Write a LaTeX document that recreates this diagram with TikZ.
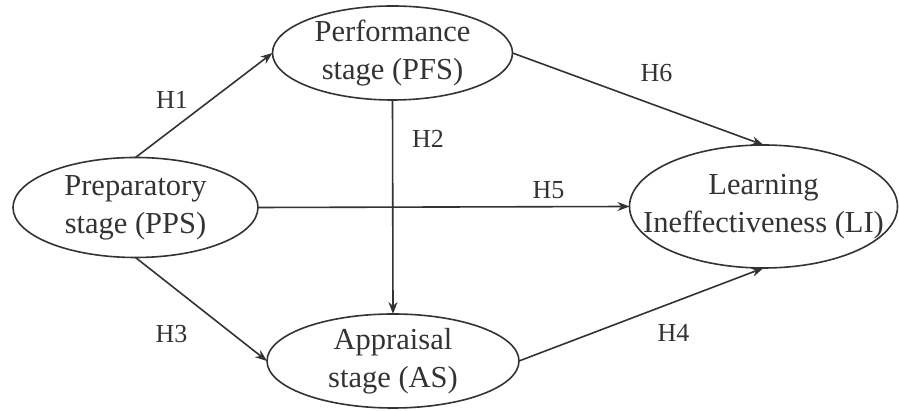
\documentclass[tikz,border=0pt]{standalone}
\usepackage{fontspec}
\setmainfont{Liberation Serif}
\usetikzlibrary{shapes.geometric,arrows.meta}
\definecolor{ink}{HTML}{333333}
\tikzset{
  construct/.style={ellipse, draw=ink, line width=1.6pt, inner sep=0pt, outer sep=0pt},
  ctext/.style={align=center, inner sep=0pt, text=ink, font=\fontsize{30.5}{38}\selectfont},
  link/.style={draw=ink, line width=1.6pt, -{Stealth[length=12pt,width=9pt]}},
  hyp/.style={text=ink, font=\fontsize{26}{30}\selectfont, inner sep=0pt}
}
\begin{document}
\begin{tikzpicture}[x=1pt,y=1pt]
\useasboundingbox (0,0) rectangle (899,411);
\node[construct, minimum width=245pt, minimum height=100pt] (pps) at (135.5,203.5) {};
\node[construct, minimum width=240pt, minimum height=94pt] (pfs) at (392.5,358) {};
\node[construct, minimum width=252pt, minimum height=94pt] (as) at (393,50) {};
\node[construct, minimum width=268pt, minimum height=123pt] (li) at (763.5,204.5) {};
\node[ctext] (ppst) at (pps.center) {Preparatory\\stage (PPS)};
\node[ctext] (pfst) at (pfs.center) {Performance\\stage (PFS)};
\node[ctext] (ast) at (as.center) {Appraisal\\stage (AS)};
\node[ctext] (lit) at (li.center) {Learning\\Ineffectiveness (LI)};
\draw[link] (pps.north) -- (pfs.west);
\draw[link] (pps.south) -- (as.west);
\draw[link] (pfs.south) -- (as.north);
\draw[link] (pps.east) -- (li.west);
\draw[link] (pfs.east) -- (li.north);
\draw[link] (as.east) -- (li.south);
\node[hyp] (h1) at (172,311) {H1};
\node[hyp] (h2) at (428,272) {H2};
\node[hyp] (h3) at (171.5,77) {H3};
\node[hyp] (h4) at (673.5,78.5) {H4};
\node[hyp] (h5) at (548.5,220.5) {H5};
\node[hyp] (h6) at (656.5,337.5) {H6};
\end{tikzpicture}
\end{document}
